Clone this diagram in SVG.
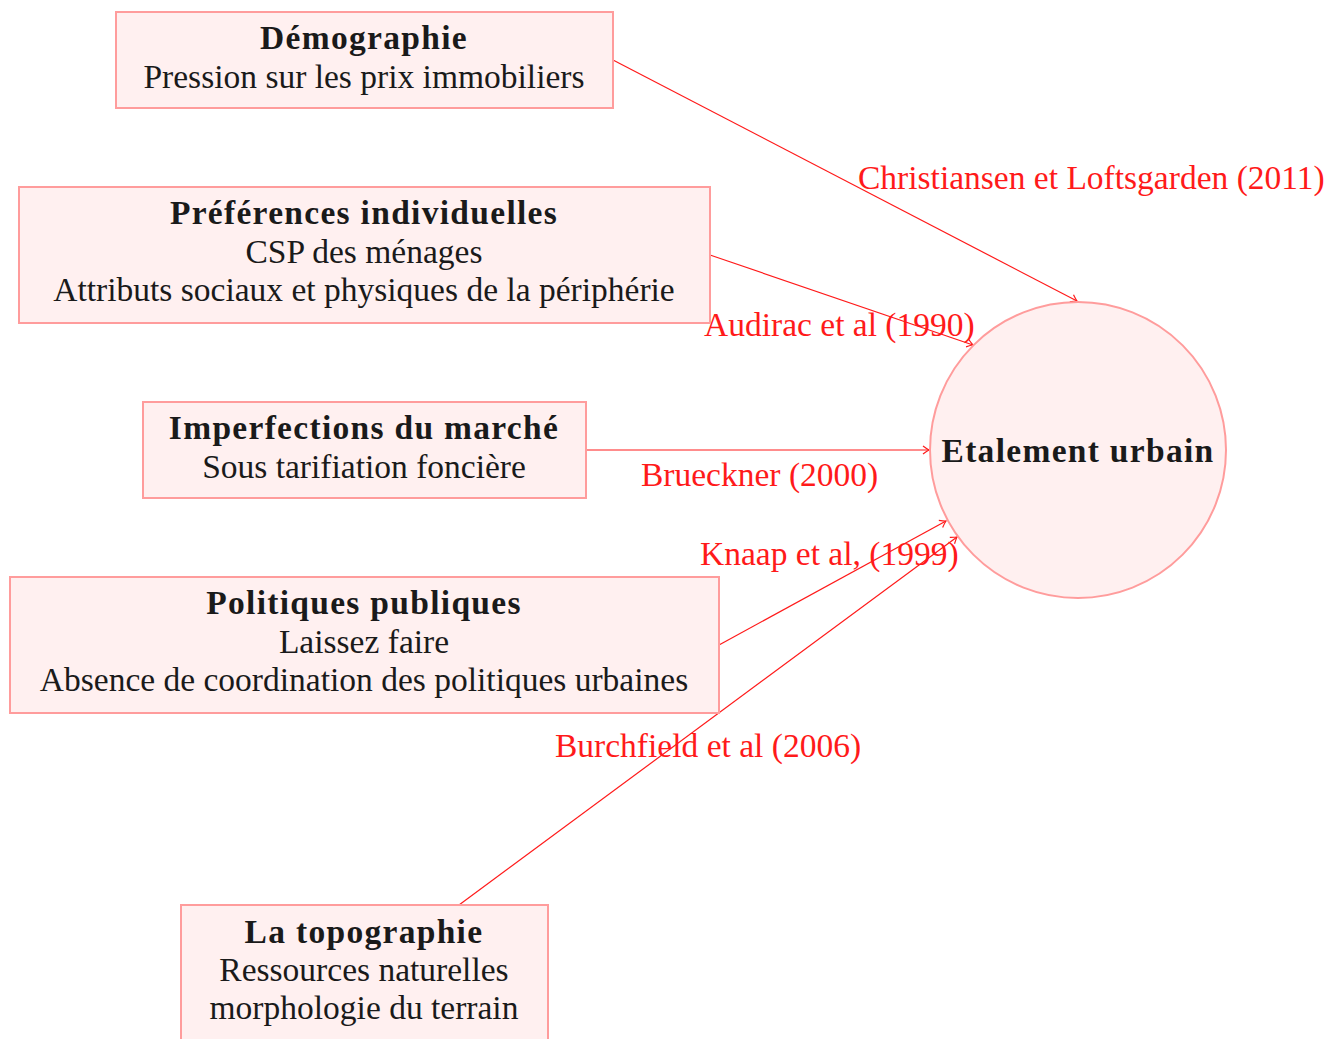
<svg xmlns="http://www.w3.org/2000/svg" width="1337" height="1039" viewBox="0 0 1337 1039">
<style>
.box{fill:#fff0f0;stroke:#ff9c9c;stroke-width:2}
.t{font-family:"Liberation Serif","DejaVu Serif",serif;font-size:33.5px;fill:#1a1a1a;text-anchor:middle}
.b{font-weight:bold;letter-spacing:1.3px}
.lbl{font-family:"Liberation Serif","DejaVu Serif",serif;font-size:33.5px;fill:#ff1a1a}
.edge{stroke:#ff1a1a;stroke-width:1.2;fill:none;marker-end:url(#arr)}
</style>
<defs>
<marker id="arr" markerUnits="userSpaceOnUse" markerWidth="14" markerHeight="12" viewBox="-8 -6 10 12" refX="0" refY="0" orient="auto">
<path d="M-6,-4 Q-2,-1 0,0 Q-2,1 -6,4" fill="none" stroke="#ff1a1a" stroke-width="1.2"/>
</marker>
</defs>
<rect width="1337" height="1039" fill="#fff"/>
<g id="connectors">
<line class="edge" x1="613" y1="60" x2="1077" y2="301"/>
<line class="edge" x1="710" y1="255" x2="973" y2="345"/>
<line class="edge" x1="586" y1="450" x2="929" y2="450"/>
<line class="edge" x1="719" y1="645" x2="946" y2="521"/>
<line class="edge" x1="459" y1="905" x2="957" y2="537"/>
<text class="lbl" x="858" y="189">Christiansen et Loftsgarden (2011)</text>
<text class="lbl" x="704" y="336">Audirac et al (1990)</text>
<text class="lbl" x="641" y="486">Brueckner (2000)</text>
<text class="lbl" x="700" y="565">Knaap et al, (1999)</text>
<text class="lbl" x="555" y="757">Burchfield et al (2006)</text>
</g>
<g id="demographie">
<rect class="box" x="116" y="12" width="497" height="96"/>
<text class="t b" x="364" y="49">Démographie</text>
<text class="t" x="364" y="88">Pression sur les prix immobiliers</text>
</g>
<g id="preferences">
<rect class="box" x="19" y="187" width="691" height="136"/>
<text class="t b" x="364" y="224">Préférences individuelles</text>
<text class="t" x="364" y="263">CSP des ménages</text>
<text class="t" x="364" y="301">Attributs sociaux et physiques de la périphérie</text>
</g>
<g id="imperfections">
<rect class="box" x="143" y="402" width="443" height="96"/>
<text class="t b" x="364" y="439">Imperfections du marché</text>
<text class="t" x="364" y="478">Sous tarifiation foncière</text>
</g>
<g id="politiques">
<rect class="box" x="10" y="577" width="709" height="136"/>
<text class="t b" x="364" y="614">Politiques publiques</text>
<text class="t" x="364" y="653">Laissez faire</text>
<text class="t" x="364" y="691">Absence de coordination des politiques urbaines</text>
</g>
<g id="topographie">
<rect class="box" x="181" y="905" width="367" height="150"/>
<text class="t b" x="364" y="943">La topographie</text>
<text class="t" x="364" y="981">Ressources naturelles</text>
<text class="t" x="364" y="1019">morphologie du terrain</text>
</g>
<g id="etalement">
<circle class="box" cx="1078" cy="450" r="148"/>
<text class="t b" x="1078" y="462">Etalement urbain</text>
</g>
</svg>
